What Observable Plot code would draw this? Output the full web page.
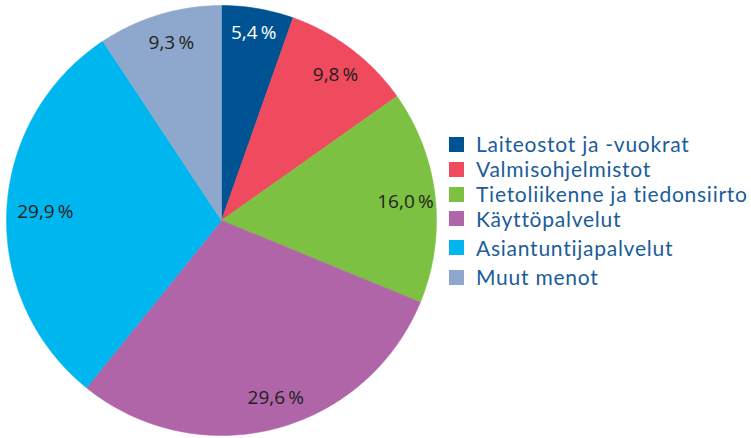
<!DOCTYPE html>
<html>
<head>
<meta charset="utf-8">
<script src="https://cdn.jsdelivr.net/npm/d3@7"></script>
<script src="https://cdn.jsdelivr.net/npm/@observablehq/plot@0.6"></script>
<style>
  html, body { margin: 0; padding: 0; background: #fff; }
  #wrap { position: relative; width: 751px; height: 438px; }
  #chart { position: absolute; left: 0; top: 0; }
  #legend { position: absolute; left: 449px; top: 0; font-family: Lato, "Open Sans", sans-serif; font-size: 21px; line-height: 22px; letter-spacing: 0.75px; color: #1a5d9a; }
  .item { position: absolute; left: 0; display: flex; align-items: center; height: 22px; white-space: nowrap; }
  .sw { width: 15px; height: 15px; margin-right: 12px; flex: none; }
</style>
</head>
<body>
<div id="wrap"><div id="chart"></div><div id="legend"></div></div>
<script>
const categories = ["Laiteostot ja -vuokrat", "Valmisohjelmistot", "Tietoliikenne ja tiedonsiirto", "Käyttöpalvelut", "Asiantuntijapalvelut", "Muut menot"];
const values = [5.4, 9.8, 16.0, 29.6, 29.9, 9.3];
const colors = ["#005392", "#ef4a5e", "#7cc142", "#b065a9", "#00b6ee", "#8ea7cd"];
const labelColors = ["#ffffff", "#231f20", "#231f20", "#231f20", "#231f20", "#231f20"];

// label placement (layout only): radius fraction and angle shift in degrees
const labelRadius = [0.887, 0.86, 0.86, 0.863, 0.82, 0.86];
const labelShift = [0, 1, 0.6, -2.6, 0, 1];

const total = d3.sum(values);
const W = 440, H = 438, R = 215, CX = 221, CY = 220;

const poly = [];
const labels = [];
let acc = 0;
categories.forEach((c, i) => {
  const a0 = acc / total * 2 * Math.PI;
  acc += values[i];
  const a1 = acc / total * 2 * Math.PI;
  const n = Math.max(2, Math.ceil((a1 - a0) / 0.01));
  poly.push({cat: c, x: 0, y: 0});
  for (let j = 0; j <= n; j++) {
    const a = a0 + (a1 - a0) * j / n;
    poly.push({cat: c, x: Math.sin(a), y: Math.cos(a)});
  }
  poly.push({cat: c, x: 0, y: 0});
  const am = (a0 + a1) / 2 + labelShift[i] * Math.PI / 180;
  const rl = labelRadius[i];
  labels.push({cat: c, x: rl * Math.sin(am), y: rl * Math.cos(am),
    text: values[i].toFixed(1).replace(".", ",") + "\u2009%", color: labelColors[i]});
});

const chart = Plot.plot({
  width: W, height: H,
  margin: 0,
  x: {domain: [-CX / R, (W - CX) / R], axis: null},
  y: {domain: [-(H - CY) / R, CY / R], axis: null},
  color: {domain: categories, range: colors},
  style: {fontFamily: "'Open Sans', sans-serif", background: "white"},
  marks: [
    Plot.line(poly, {x: "x", y: "y", z: "cat", fill: "cat", stroke: "cat", strokeWidth: 0.5, curve: "linear"}),
    Plot.text(labels, {x: "x", y: "y", text: "text", fill: d => d.color, fontSize: 19})
  ]
});
document.getElementById("chart").appendChild(chart);

// legend row centres (layout only)
const rowCentres = [144, 169, 194, 218.5, 247.5, 277];
const leg = document.getElementById("legend");
categories.forEach((c, i) => {
  const it = document.createElement("div");
  it.className = "item";
  it.style.top = (rowCentres[i] - 11) + "px";
  const sw = document.createElement("span");
  sw.className = "sw";
  sw.style.background = colors[i];
  const t = document.createElement("span");
  t.textContent = c;
  it.appendChild(sw); it.appendChild(t);
  leg.appendChild(it);
});
</script>
</body>
</html>
